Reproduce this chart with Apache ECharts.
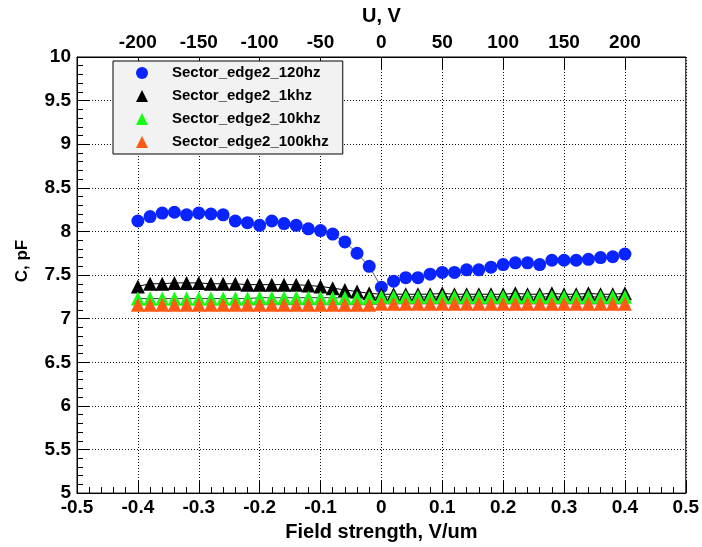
<!DOCTYPE html>
<html>
<head>
<meta charset="utf-8">
<script src="https://cdn.jsdelivr.net/npm/echarts@6/dist/echarts.min.js"></script>
<style>
  html, body { margin: 0; padding: 0; background: #ffffff; }
  #chart { width: 702px; height: 547px; }
</style>
</head>
<body>
<div id="chart"></div>
<script>
// Applied field strength (V/um) for each measurement point
const fieldStrength = [
  -0.40, -0.38, -0.36, -0.34, -0.32, -0.30, -0.28, -0.26, -0.24, -0.22,
  -0.20, -0.18, -0.16, -0.14, -0.12, -0.10, -0.08, -0.06, -0.04, -0.02,
   0.00,  0.02,  0.04,  0.06,  0.08,  0.10,  0.12,  0.14,  0.16,  0.18,
   0.20,  0.22,  0.24,  0.26,  0.28,  0.30,  0.32,  0.34,  0.36,  0.38,
   0.40
];

// Capacitance (pF) measured at each test frequency
const cap120hz = [
  8.12, 8.17, 8.21, 8.22, 8.19, 8.21, 8.20, 8.19, 8.12, 8.10,
  8.07, 8.12, 8.09, 8.07, 8.03, 8.01, 7.97, 7.88, 7.75, 7.60,
  7.36, 7.43, 7.47, 7.47, 7.51, 7.53, 7.53, 7.56, 7.56, 7.59,
  7.62, 7.64, 7.64, 7.62, 7.67, 7.67, 7.67, 7.68, 7.70, 7.71,
  7.74
];
const cap1khz = [
  7.37, 7.40, 7.40, 7.41, 7.41, 7.41, 7.40, 7.40, 7.40, 7.39,
  7.39, 7.39, 7.39, 7.39, 7.38, 7.37, 7.35, 7.33, 7.31, 7.29,
  7.28, 7.28, 7.28, 7.28, 7.28, 7.29, 7.28, 7.28, 7.28, 7.28,
  7.28, 7.29, 7.28, 7.28, 7.29, 7.28, 7.28, 7.29, 7.28, 7.28,
  7.29
];
const cap10khz = [
  7.23, 7.23, 7.23, 7.23, 7.23, 7.23, 7.23, 7.23, 7.23, 7.23,
  7.24, 7.24, 7.24, 7.24, 7.24, 7.24, 7.24, 7.24, 7.24, 7.24,
  7.25, 7.25, 7.25, 7.25, 7.25, 7.25, 7.25, 7.25, 7.25, 7.25,
  7.25, 7.25, 7.25, 7.25, 7.25, 7.25, 7.25, 7.25, 7.25, 7.25,
  7.25
];
const cap100khz = [
  7.16, 7.16, 7.16, 7.16, 7.16, 7.16, 7.16, 7.16, 7.16, 7.16,
  7.16, 7.16, 7.16, 7.16, 7.16, 7.16, 7.16, 7.16, 7.16, 7.16,
  7.17, 7.17, 7.17, 7.17, 7.17, 7.17, 7.17, 7.17, 7.17, 7.17,
  7.17, 7.17, 7.17, 7.17, 7.17, 7.17, 7.17, 7.17, 7.17, 7.17,
  7.17
];

const seriesNames = [
  'Sector_edge2_120hz',
  'Sector_edge2_1khz',
  'Sector_edge2_10khz',
  'Sector_edge2_100khz'
];

const FONT = '"Liberation Sans", Arial, Helvetica, sans-serif';

function gridDots() {
  return { color: '#111', width: 1, type: [1, 2] };
}

function pairs(values) {
  return fieldStrength.map((x, i) => [x, values[i]]);
}

function makeSeries(name, values, symbol, size, color, lineColor) {
  return {
    name: name,
    type: 'line',
    xAxisIndex: 0,
    yAxisIndex: 0,
    data: pairs(values),
    symbol: symbol,
    symbolSize: size,
    showSymbol: true,
    itemStyle: { color: color },
    lineStyle: { color: lineColor, width: 1 },
    emphasis: { disabled: true },
    animation: false
  };
}

const chart = echarts.init(document.getElementById('chart'), null, { renderer: 'canvas' });

chart.setOption({
  backgroundColor: '#ffffff',
  animation: false,
  textStyle: { fontFamily: FONT },
  grid: {
    left: 77, right: 15, top: 57, bottom: 50,
    show: true, borderColor: '#000', borderWidth: 1, backgroundColor: 'transparent'
  },
  legend: {
    left: 113, top: 61,
    orient: 'vertical',
    selectedMode: false,
    backgroundColor: '#f2f2f2',
    borderColor: '#000',
    borderWidth: 1,
    padding: [4, 14, 4, 23],
    itemGap: 7,
    itemWidth: 12,
    itemHeight: 12,
    textStyle: {
      fontFamily: FONT, fontWeight: 'bold', fontSize: 15, color: '#000',
      lineHeight: 16, padding: [0, 0, 0, 19]
    },
    data: [
      { name: seriesNames[0], icon: 'circle' },
      { name: seriesNames[1], icon: 'triangle' },
      { name: seriesNames[2], icon: 'triangle' },
      { name: seriesNames[3], icon: 'triangle' }
    ]
  },
  xAxis: [
    {
      type: 'value',
      position: 'bottom',
      min: -0.5, max: 0.5, interval: 0.1,
      name: 'Field strength, V/um',
      nameLocation: 'middle',
      nameGap: 26,
      nameTextStyle: { fontFamily: FONT, fontWeight: 'bold', fontSize: 20, color: '#000' },
      axisLine: { show: true, onZero: false, lineStyle: { color: '#000', width: 1 } },
      axisTick: { show: true, inside: true, length: 12, lineStyle: { color: '#000' } },
      minorTick: { show: true, splitNumber: 5, length: 6, lineStyle: { color: '#000' } },
      splitLine: { show: true, lineStyle: gridDots() },
      axisLabel: {
        margin: 5, color: '#000', fontFamily: FONT, fontWeight: 'bold', fontSize: 19,
        formatter: v => {
          const r = Math.round(v * 10) / 10;
          return r === 0 ? '0' : r.toFixed(1);
        }
      }
    },
    {
      type: 'value',
      position: 'top',
      min: -250, max: 250, interval: 50,
      name: 'U, V',
      nameLocation: 'middle',
      nameGap: 31,
      nameTextStyle: { fontFamily: FONT, fontWeight: 'bold', fontSize: 20, color: '#000' },
      axisLine: { show: true, onZero: false, lineStyle: { color: '#000', width: 1 } },
      axisTick: { show: true, inside: true, length: 12, lineStyle: { color: '#000' } },
      splitLine: { show: false },
      axisLabel: {
        margin: 5, color: '#000', fontFamily: FONT, fontWeight: 'bold', fontSize: 19,
        showMinLabel: false, showMaxLabel: false,
        formatter: v => (Math.abs(v) >= 250 ? '' : String(Math.round(v)))
      }
    }
  ],
  yAxis: {
    type: 'value',
    min: 5, max: 10, interval: 0.5,
    axisLine: { show: true, onZero: false, lineStyle: { color: '#000', width: 1 } },
    axisTick: { show: true, inside: true, length: 12, lineStyle: { color: '#000' } },
    minorTick: { show: true, splitNumber: 5, length: 6, lineStyle: { color: '#000' } },
    splitLine: { show: true, lineStyle: gridDots() },
    axisLabel: {
      margin: 6, color: '#000', fontFamily: FONT, fontWeight: 'bold', fontSize: 19,
      formatter: v => String(Math.round(v * 10) / 10)
    }
  },
  graphic: [
    {
      type: 'text',
      x: 22, y: 261,
      rotation: Math.PI / 2,
      style: {
        text: 'C, pF',
        fill: '#000',
        font: 'bold 17px ' + FONT,
        textAlign: 'center',
        textVerticalAlign: 'middle'
      }
    }
  ],
  series: [
    makeSeries(seriesNames[0], cap120hz, 'circle', 13, '#0a24ff', '#555'),
    makeSeries(seriesNames[1], cap1khz, 'triangle', 14, '#000000', '#000'),
    makeSeries(seriesNames[2], cap10khz, 'triangle', 14, '#14ff14', '#333'),
    makeSeries(seriesNames[3], cap100khz, 'triangle', 14, '#ff5a14', '#333')
  ]
});
</script>
</body>
</html>
